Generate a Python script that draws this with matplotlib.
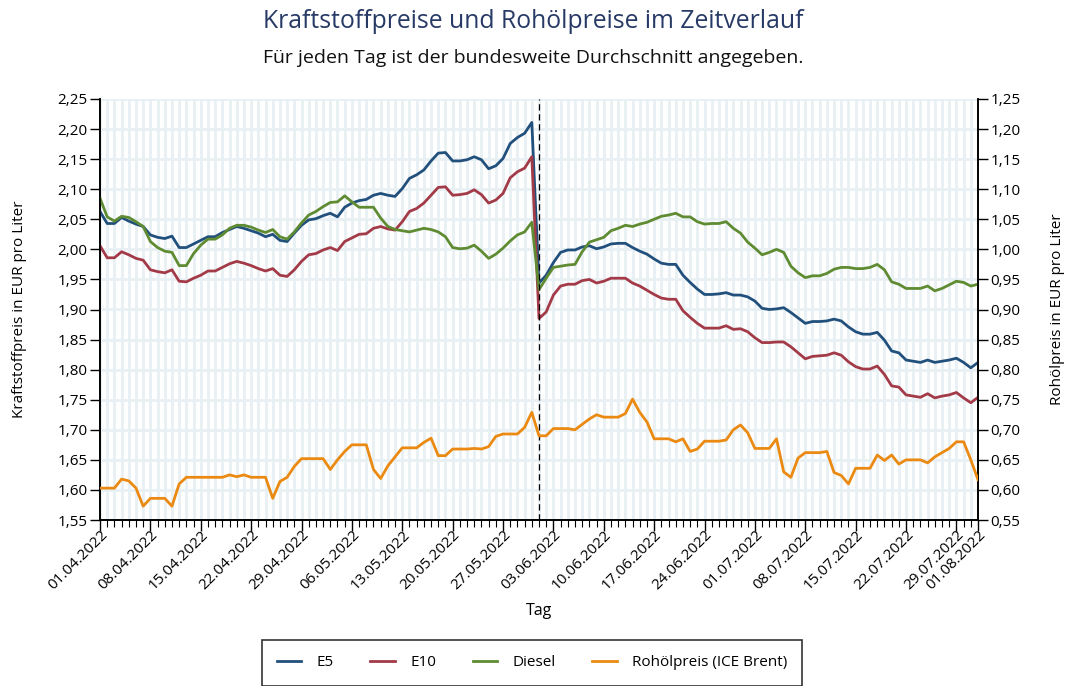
import numpy as np
import pandas as pd
import matplotlib
matplotlib.use("Agg")
import matplotlib.pyplot as plt
import matplotlib.dates as mdates
from matplotlib.ticker import FixedLocator, FuncFormatter, MultipleLocator

plt.rcParams['font.family'] = ['Open Sans', 'DejaVu Sans']

dates = pd.date_range("2022-04-01", "2022-08-01", freq="D")

e5 = [2.063, 2.043, 2.043, 2.053, 2.047, 2.042, 2.038, 2.024, 2.020, 2.018,
      2.022, 2.003, 2.003, 2.009, 2.015, 2.021, 2.021, 2.028, 2.033, 2.038,
      2.035, 2.031, 2.027, 2.021, 2.025, 2.015, 2.013, 2.027, 2.040, 2.049,
      2.051, 2.056, 2.060, 2.054, 2.070, 2.077, 2.081, 2.083, 2.090, 2.093,
      2.090, 2.088, 2.101, 2.118, 2.124, 2.132, 2.147, 2.160, 2.161, 2.147,
      2.147, 2.149, 2.154, 2.149, 2.134, 2.139, 2.151, 2.176, 2.186, 2.193,
      2.211, 1.944, 1.957, 1.978, 1.995, 1.999, 1.999, 2.004, 2.006, 2.001,
      2.004, 2.009, 2.010, 2.010, 2.003, 1.997, 1.992, 1.984, 1.977, 1.975,
      1.975, 1.957, 1.945, 1.934, 1.925, 1.925, 1.926, 1.928, 1.924, 1.924,
      1.921, 1.914, 1.902, 1.900, 1.901, 1.903, 1.895, 1.886, 1.877, 1.880,
      1.880, 1.881, 1.884, 1.881, 1.871, 1.863, 1.859, 1.859, 1.862, 1.849,
      1.831, 1.828, 1.816, 1.814, 1.812, 1.816, 1.812, 1.814, 1.816, 1.819,
      1.812, 1.803, 1.812]

e10 = [2.006, 1.986, 1.986, 1.996, 1.991, 1.985, 1.982, 1.966, 1.963, 1.961,
       1.966, 1.947, 1.946, 1.952, 1.957, 1.964, 1.964, 1.970, 1.976, 1.980,
       1.977, 1.973, 1.968, 1.964, 1.968, 1.957, 1.955, 1.966, 1.980, 1.991,
       1.993, 1.999, 2.003, 1.998, 2.013, 2.019, 2.025, 2.026, 2.035, 2.038,
       2.034, 2.032, 2.046, 2.063, 2.068, 2.077, 2.090, 2.103, 2.104, 2.090,
       2.091, 2.093, 2.099, 2.091, 2.077, 2.082, 2.093, 2.119, 2.129, 2.135,
       2.154, 1.885, 1.896, 1.924, 1.939, 1.942, 1.942, 1.948, 1.950, 1.944,
       1.947, 1.952, 1.952, 1.952, 1.944, 1.939, 1.932, 1.925, 1.919, 1.917,
       1.917, 1.898, 1.887, 1.877, 1.869, 1.869, 1.869, 1.873, 1.867, 1.868,
       1.863, 1.853, 1.845, 1.845, 1.846, 1.846, 1.838, 1.828, 1.818, 1.822,
       1.823, 1.824, 1.828, 1.824, 1.813, 1.805, 1.801, 1.801, 1.806, 1.792,
       1.773, 1.771, 1.758, 1.756, 1.754, 1.760, 1.753, 1.756, 1.758, 1.762,
       1.753, 1.745, 1.754]

diesel = [2.085, 2.054, 2.047, 2.055, 2.053, 2.046, 2.038, 2.013, 2.003, 1.997,
          1.995, 1.973, 1.973, 1.993, 2.007, 2.017, 2.017, 2.024, 2.035, 2.040,
          2.040, 2.037, 2.032, 2.028, 2.033, 2.021, 2.017, 2.029, 2.044, 2.057,
          2.063, 2.071, 2.078, 2.079, 2.089, 2.079, 2.070, 2.070, 2.070, 2.052,
          2.038, 2.033, 2.031, 2.029, 2.032, 2.035, 2.033, 2.029, 2.021, 2.003,
          2.001, 2.002, 2.007, 1.997, 1.985, 1.992, 2.002, 2.014, 2.024, 2.029,
          2.045, 1.933, 1.952, 1.970, 1.972, 1.974, 1.975, 1.996, 2.012, 2.016,
          2.020, 2.031, 2.035, 2.040, 2.038, 2.042, 2.045, 2.050, 2.055, 2.057,
          2.060, 2.054, 2.054, 2.046, 2.042, 2.043, 2.043, 2.046, 2.035, 2.027,
          2.012, 2.002, 1.991, 1.995, 2.000, 1.995, 1.972, 1.961, 1.953, 1.956,
          1.956, 1.960, 1.967, 1.970, 1.970, 1.968, 1.968, 1.970, 1.975, 1.966,
          1.946, 1.942, 1.935, 1.935, 1.935, 1.939, 1.931, 1.935, 1.941, 1.947,
          1.945, 1.939, 1.942]

brent = [0.603, 0.603, 0.603, 0.618, 0.615, 0.603, 0.573, 0.586, 0.586, 0.586,
         0.573, 0.610, 0.621, 0.621, 0.621, 0.621, 0.621, 0.621, 0.625, 0.622,
         0.625, 0.621, 0.621, 0.621, 0.586, 0.614, 0.621, 0.639, 0.652, 0.652,
         0.652, 0.652, 0.634, 0.650, 0.664, 0.675, 0.675, 0.675, 0.634, 0.619,
         0.640, 0.655, 0.670, 0.670, 0.670, 0.679, 0.686, 0.657, 0.657, 0.668,
         0.668, 0.668, 0.669, 0.668, 0.672, 0.689, 0.693, 0.693, 0.693, 0.704,
         0.729, 0.690, 0.690, 0.702, 0.702, 0.702, 0.700, 0.709, 0.718, 0.725,
         0.721, 0.721, 0.721, 0.727, 0.751, 0.729, 0.713, 0.685, 0.685, 0.685,
         0.680, 0.685, 0.664, 0.668, 0.681, 0.681, 0.681, 0.683, 0.700, 0.708,
         0.695, 0.669, 0.669, 0.669, 0.685, 0.630, 0.621, 0.653, 0.662, 0.662,
         0.662, 0.664, 0.629, 0.624, 0.610, 0.636, 0.636, 0.636, 0.658, 0.649,
         0.658, 0.643, 0.650, 0.650, 0.650, 0.645, 0.655, 0.662, 0.669, 0.680,
         0.680, 0.650, 0.617]

tick_labels = ["01.04.2022", "08.04.2022", "15.04.2022", "22.04.2022", "29.04.2022",
               "06.05.2022", "13.05.2022", "20.05.2022", "27.05.2022", "03.06.2022",
               "10.06.2022", "17.06.2022", "24.06.2022", "01.07.2022", "08.07.2022",
               "15.07.2022", "22.07.2022", "29.07.2022", "01.08.2022"]
event_date = "2022-06-01"

c_e5 = "#22507c"
c_e10 = "#a33a48"
c_diesel = "#5f8b32"
c_oil = "#eb8a12"
grid_c = "#e8f0f3"

fig = plt.figure(figsize=(10.66, 6.86), dpi=100)
ax = fig.add_axes([100/1066, 1-520/686, 878/1066, 421/686])
ax2 = ax.twinx()

xnum = mdates.date2num(dates)
ax.set_xlim(xnum[0], xnum[-1])
ax.set_ylim(1.55, 2.25)
ax2.set_ylim(0.55, 1.25)

# grid
for xv in xnum:
    ax.axvline(xv, color=grid_c, lw=2.0, zorder=0)
for yv in np.arange(1.55, 2.2501, 0.05):
    ax.axhline(yv, color=grid_c, lw=2.0, zorder=0)

l1, = ax.plot(xnum, e5, color=c_e5, lw=2.0, label="E5", zorder=3)
l2, = ax.plot(xnum, e10, color=c_e10, lw=2.0, label="E10", zorder=3)
l3, = ax.plot(xnum, diesel, color=c_diesel, lw=2.0, label="Diesel", zorder=3)
l4, = ax2.plot(xnum, brent, color=c_oil, lw=2.0, label="Rohölpreis (ICE Brent)", zorder=3)

ax.axvline(mdates.date2num(pd.Timestamp(event_date)), color="black", lw=0.9,
           ls=(0, (5, 3)), zorder=4)

tick_pos = [mdates.date2num(pd.to_datetime(t, format="%d.%m.%Y")) for t in tick_labels]
ax.xaxis.set_major_locator(FixedLocator(tick_pos))
ax.set_xticklabels(tick_labels, rotation=45, ha="right", rotation_mode="anchor", fontsize=11)
ax.xaxis.set_minor_locator(FixedLocator(xnum))
ax.tick_params(axis="x", which="major", length=8, width=1, direction="out", pad=-3)
ax.tick_params(axis="x", which="minor", length=5, width=0.8, direction="out")

fmt = FuncFormatter(lambda v, p: f"{v:.2f}".replace(".", ","))
ax.yaxis.set_major_locator(MultipleLocator(0.05))
ax.yaxis.set_major_formatter(fmt)
ax2.yaxis.set_major_locator(MultipleLocator(0.05))
ax2.yaxis.set_major_formatter(fmt)
ax.tick_params(axis="y", length=7, width=1, labelsize=11, pad=2)
ax2.tick_params(axis="y", length=7, width=1, labelsize=11, pad=2)

for a in (ax, ax2):
    a.spines["top"].set_visible(False)
    for s in ("left", "right", "bottom"):
        a.spines[s].set_color("black")
        a.spines[s].set_linewidth(1.2)
ax.set_facecolor("white")

ax.set_ylabel("Kraftstoffpreis in EUR pro Liter", fontsize=11)
ax2.set_ylabel("Rohölpreis in EUR pro Liter", fontsize=11)
ax.yaxis.set_label_coords(-0.083, 0.5)
ax2.yaxis.set_label_coords(1.0815, 0.5)
ax.set_xlabel("Tag", fontsize=11.5)
ax.xaxis.set_label_coords(0.5, -0.197)

fig.text(0.5, 1-21/686, "Kraftstoffpreise und Rohölpreise im Zeitverlauf",
         ha="center", va="center", fontsize=17.8, color="#273a66")
fig.text(0.5, 1-58/686, "Für jeden Tag ist der bundesweite Durchschnitt angegeben.",
         ha="center", va="center", fontsize=14, color="#111111")

leg = fig.legend(handles=[l1, l2, l3, l4], loc="upper center",
                 bbox_to_anchor=(532/1066, 1-640/686), ncol=4, frameon=True,
                 fancybox=False, edgecolor="black", fontsize=11,
                 handlelength=1.6, columnspacing=2.4, borderpad=1.0,
                 handletextpad=1.0, borderaxespad=0)
leg.get_frame().set_linewidth(1.2)

fig.savefig("out.png", dpi=100)
